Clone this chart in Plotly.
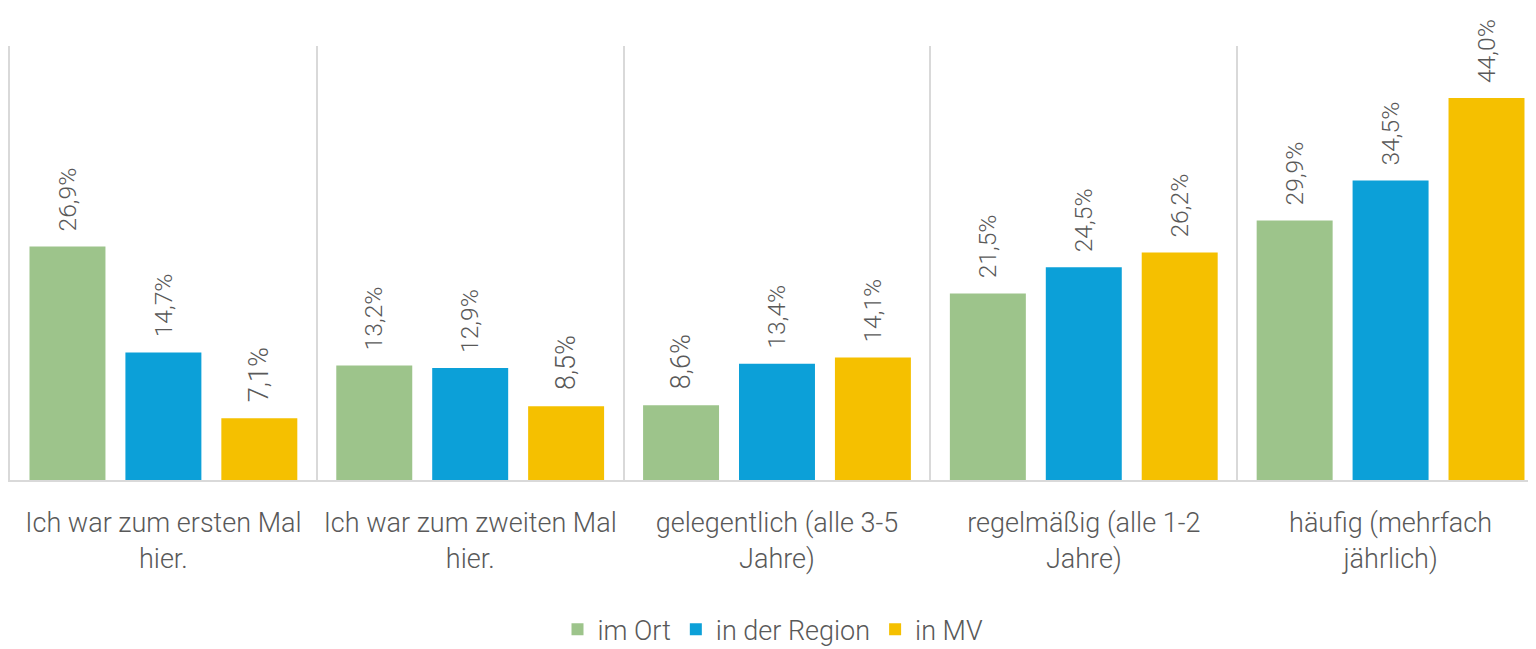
import plotly.graph_objects as go

categories = [
    "Ich war zum ersten Mal<br>hier.",
    "Ich war zum zweiten Mal<br>hier.",
    "gelegentlich (alle 3-5<br>Jahre)",
    "regelmäßig (alle 1-2<br>Jahre)",
    "häufig (mehrfach<br>jährlich)",
]
im_ort = [26.9, 13.2, 8.6, 21.5, 29.9]
in_der_region = [14.7, 12.9, 13.4, 24.5, 34.5]
in_mv = [7.1, 8.5, 14.1, 26.2, 44.0]

series = [
    ("im Ort", im_ort, "#9DC48B"),
    ("in der Region", in_der_region, "#0CA0D8"),
    ("in MV", in_mv, "#F5C000"),
]

FONT = "Roboto"
GREY = "#595959"
LINE = "#D9D9D9"

x_pos = list(range(len(categories)))

fig = go.Figure()
for name, vals, color in series:
    fig.add_trace(go.Bar(
        x=x_pos,
        y=vals,
        name=name,
        marker=dict(color=color, line=dict(width=0)),
        text=[f"\u00a0\u00a0{v:.1f}%".replace(".", ",") for v in vals],
        textposition="outside",
        textangle=-90,
        textfont=dict(family=FONT, size=27, color=GREY, weight=300),
        cliponaxis=False,
    ))

# page body has an 8px margin, so the figure is a bit smaller and shifted
fig.update_layout(
    width=1528,
    height=641,
    margin=dict(l=2, r=0, t=38, b=169, autoexpand=False),
    plot_bgcolor="white",
    paper_bgcolor="white",
    barmode="group",
    bargap=0.062,
    bargroupgap=0.208,
    font=dict(family=FONT, size=27, color=GREY, weight=300),
    showlegend=True,
    legend=dict(
        orientation="h",
        xanchor="center",
        x=0.5,
        yref="container",
        yanchor="middle",
        y=0.03,
        font=dict(family=FONT, size=27, color=GREY, weight=300),
        traceorder="normal",
    ),
    xaxis=dict(
        range=[-0.5, 4.474],
        tickvals=x_pos,
        ticktext=categories,
        showgrid=False,
        showline=True,
        linecolor=LINE,
        linewidth=2,
        ticks="",
        ticklabelstandoff=18,
        tickfont=dict(family=FONT, size=27, color=GREY, weight=300),
        minor=dict(
            tickvals=[-0.5, 0.5, 1.5, 2.5, 3.5],
            showgrid=True,
            gridcolor=LINE,
            gridwidth=2,
            ticks="",
        ),
        zeroline=False,
    ),
    yaxis=dict(
        range=[0, 50],
        showgrid=False,
        zeroline=False,
        showticklabels=False,
        ticks="",
        showline=True,
        linecolor=LINE,
        linewidth=2,
    ),
)

fig.write_html("out.html")
